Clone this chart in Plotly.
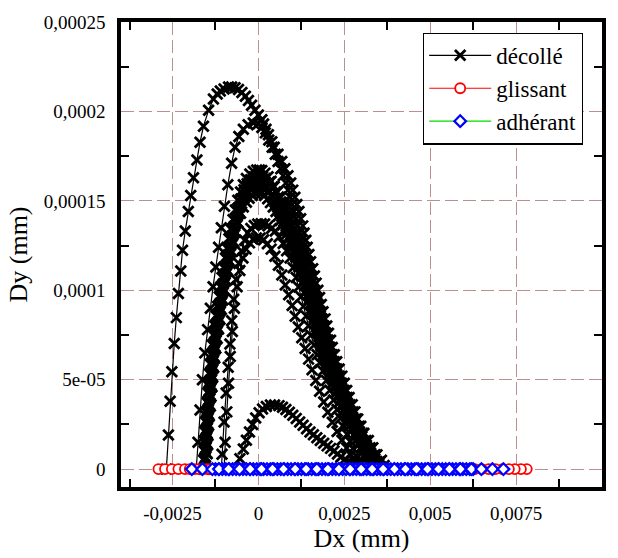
import plotly.graph_objects as go

# ---------------------------------------------------------------------------
# Contact displacement paths (Dx, Dy in mm), one list of points per path.
# ---------------------------------------------------------------------------
arch_a = [
    (-2.68e-3, 0.0), (-2.62e-3, 1.91e-5), (-2.57e-3, 3.80e-5), (-2.52e-3, 5.45e-5),
    (-2.45e-3, 7.03e-5), (-2.39e-3, 8.47e-5), (-2.33e-3, 9.82e-5), (-2.26e-3, 1.108e-4),
    (-2.21e-3, 1.224e-4), (-2.13e-3, 1.332e-4), (-2.04e-3, 1.440e-4), (-1.97e-3, 1.530e-4),
    (-1.89e-3, 1.629e-4), (-1.79e-3, 1.728e-4), (-1.70e-3, 1.827e-4), (-1.60e-3, 1.917e-4),
    (-1.45e-3, 2.007e-4), (-1.31e-3, 2.070e-4), (-1.20e-3, 2.098e-4), (-1.11e-3, 2.114e-4),
    (-1.00e-3, 2.126e-4), (-0.87e-3, 2.136e-4), (-0.78e-3, 2.137e-4), (-0.68e-3, 2.133e-4),
    (-0.58e-3, 2.122e-4), (-0.48e-3, 2.106e-4), (-0.38e-3, 2.085e-4), (-0.29e-3, 2.061e-4),
    (-0.20e-3, 2.035e-4), (-0.10e-3, 2.007e-4), (0.0, 1.980e-4), (0.10e-3, 1.953e-4),
    (0.15e-3, 1.93e-4), (0.22e-3, 1.90e-4), (0.29e-3, 1.87e-4), (0.39e-3, 1.83e-4),
    (0.46e-3, 1.80e-4), (0.57e-3, 1.76e-4), (0.68e-3, 1.72e-4), (0.77e-3, 1.68e-4),
    (0.86e-3, 1.64e-4), (0.94e-3, 1.60e-4), (1.00e-3, 1.56e-4), (1.06e-3, 1.52e-4),
    (1.12e-3, 1.48e-4), (1.18e-3, 1.44e-4), (1.23e-3, 1.40e-4), (1.29e-3, 1.36e-4),
    (1.33e-3, 1.32e-4), (1.38e-3, 1.28e-4), (1.42e-3, 1.24e-4), (1.47e-3, 1.20e-4),
    (1.52e-3, 1.16e-4), (1.58e-3, 1.12e-4), (1.63e-3, 1.08e-4), (1.68e-3, 1.04e-4),
    (1.73e-3, 1.00e-4), (1.78e-3, 9.6e-5), (1.83e-3, 9.2e-5), (1.88e-3, 8.8e-5),
    (1.94e-3, 8.4e-5), (1.99e-3, 8.0e-5), (2.04e-3, 7.6e-5), (2.10e-3, 7.2e-5),
    (2.15e-3, 6.8e-5), (2.21e-3, 6.4e-5), (2.28e-3, 6.0e-5), (2.35e-3, 5.6e-5),
    (2.43e-3, 5.2e-5), (2.50e-3, 4.8e-5), (2.57e-3, 4.4e-5), (2.64e-3, 4.0e-5),
    (2.73e-3, 3.6e-5), (2.81e-3, 3.2e-5), (2.89e-3, 2.8e-5), (2.98e-3, 2.4e-5),
    (3.07e-3, 2.0e-5), (3.20e-3, 1.6e-5), (3.33e-3, 1.2e-5), (3.45e-3, 8.0e-6),
    (3.58e-3, 5.0e-6), (3.66e-3, 2.0e-6), (3.68e-3, 0.0),
]

arch_b = [
    (-1.81e-3, 0.0), (-1.76e-3, 1.5e-5), (-1.70e-3, 3.3e-5), (-1.63e-3, 5.0e-5),
    (-1.56e-3, 6.5e-5), (-1.48e-3, 7.8e-5), (-1.40e-3, 9.0e-5), (-1.32e-3, 1.02e-4),
    (-1.24e-3, 1.13e-4), (-1.16e-3, 1.24e-4), (-1.08e-3, 1.35e-4), (-0.99e-3, 1.47e-4),
    (-0.89e-3, 1.59e-4), (-0.78e-3, 1.71e-4), (-0.68e-3, 1.80e-4), (-0.57e-3, 1.86e-4),
    (-0.44e-3, 1.90e-4), (-0.30e-3, 1.925e-4), (-0.15e-3, 1.935e-4), (0.0, 1.932e-4),
    (0.10e-3, 1.91e-4), (0.20e-3, 1.88e-4), (0.30e-3, 1.84e-4), (0.40e-3, 1.80e-4),
    (0.49e-3, 1.76e-4), (0.57e-3, 1.72e-4), (0.65e-3, 1.68e-4), (0.72e-3, 1.64e-4),
    (0.80e-3, 1.60e-4), (0.86e-3, 1.56e-4), (0.92e-3, 1.52e-4), (0.98e-3, 1.48e-4),
    (1.03e-3, 1.44e-4), (1.09e-3, 1.40e-4), (1.14e-3, 1.36e-4), (1.19e-3, 1.32e-4),
    (1.24e-3, 1.28e-4), (1.29e-3, 1.24e-4), (1.34e-3, 1.20e-4), (1.39e-3, 1.16e-4),
    (1.44e-3, 1.12e-4), (1.50e-3, 1.08e-4), (1.55e-3, 1.04e-4), (1.60e-3, 1.00e-4),
    (1.66e-3, 9.6e-5), (1.72e-3, 9.2e-5), (1.79e-3, 8.8e-5), (1.85e-3, 8.4e-5),
    (1.91e-3, 8.0e-5), (1.97e-3, 7.6e-5), (2.03e-3, 7.2e-5), (2.09e-3, 6.8e-5),
    (2.15e-3, 6.4e-5), (2.21e-3, 6.0e-5), (2.28e-3, 5.6e-5), (2.35e-3, 5.2e-5),
    (2.42e-3, 4.8e-5), (2.50e-3, 4.4e-5), (2.58e-3, 4.0e-5), (2.66e-3, 3.6e-5),
    (2.75e-3, 3.2e-5), (2.84e-3, 2.8e-5), (2.93e-3, 2.4e-5), (3.03e-3, 2.0e-5),
    (3.13e-3, 1.6e-5), (3.25e-3, 1.2e-5), (3.39e-3, 8.0e-6), (3.52e-3, 4.0e-6),
    (3.62e-3, 0.0),
]

arch_c1 = [
    (-1.60e-3, 0.0), (-1.59e-3, 5.0e-6), (-1.58e-3, 1.01e-5), (-1.57e-3, 1.55e-5),
    (-1.56e-3, 2.09e-5), (-1.54e-3, 2.63e-5), (-1.51e-3, 3.17e-5), (-1.49e-3, 3.71e-5),
    (-1.47e-3, 4.25e-5), (-1.45e-3, 4.79e-5), (-1.42e-3, 5.32e-5), (-1.40e-3, 5.86e-5),
    (-1.37e-3, 6.40e-5), (-1.34e-3, 6.94e-5), (-1.30e-3, 7.48e-5), (-1.27e-3, 8.02e-5),
    (-1.23e-3, 8.56e-5), (-1.19e-3, 9.10e-5), (-1.14e-3, 9.64e-5), (-1.10e-3, 1.018e-4),
    (-1.06e-3, 1.072e-4), (-1.01e-3, 1.126e-4), (-0.96e-3, 1.180e-4), (-0.91e-3, 1.234e-4),
    (-0.86e-3, 1.288e-4), (-0.80e-3, 1.341e-4), (-0.74e-3, 1.395e-4), (-0.67e-3, 1.449e-4),
    (-0.60e-3, 1.503e-4), (-0.52e-3, 1.550e-4), (-0.44e-3, 1.590e-4), (-0.35e-3, 1.625e-4),
    (-0.25e-3, 1.650e-4), (-0.15e-3, 1.665e-4), (-0.05e-3, 1.672e-4), (0.03e-3, 1.673e-4),
    (0.10e-3, 1.670e-4), (0.19e-3, 1.655e-4),
    (0.28e-3, 1.635e-4), (0.37e-3, 1.610e-4), (0.46e-3, 1.580e-4), (0.55e-3, 1.550e-4),
    (0.64e-3, 1.520e-4), (0.71e-3, 1.490e-4), (0.78e-3, 1.460e-4), (0.84e-3, 1.430e-4),
    (0.90e-3, 1.400e-4), (0.96e-3, 1.370e-4), (1.02e-3, 1.341e-4), (1.08e-3, 1.314e-4),
    (1.13e-3, 1.288e-4), (1.18e-3, 1.261e-4), (1.22e-3, 1.234e-4), (1.27e-3, 1.207e-4),
    (1.31e-3, 1.180e-4), (1.37e-3, 1.153e-4), (1.42e-3, 1.126e-4), (1.46e-3, 1.099e-4),
    (1.50e-3, 1.072e-4), (1.54e-3, 1.045e-4), (1.58e-3, 1.018e-4), (1.62e-3, 9.91e-5),
    (1.65e-3, 9.64e-5), (1.69e-3, 9.37e-5), (1.72e-3, 9.10e-5), (1.76e-3, 8.83e-5),
    (1.80e-3, 8.56e-5), (1.83e-3, 8.29e-5), (1.86e-3, 8.02e-5), (1.89e-3, 7.75e-5),
    (1.92e-3, 7.48e-5), (1.95e-3, 7.21e-5), (1.98e-3, 6.94e-5), (2.02e-3, 6.67e-5),
    (2.07e-3, 6.40e-5), (2.11e-3, 6.13e-5), (2.15e-3, 5.86e-5), (2.21e-3, 5.59e-5),
    (2.27e-3, 5.32e-5), (2.32e-3, 5.05e-5), (2.37e-3, 4.79e-5), (2.42e-3, 4.52e-5),
    (2.47e-3, 4.25e-5), (2.52e-3, 3.98e-5), (2.58e-3, 3.71e-5), (2.63e-3, 3.44e-5),
    (2.68e-3, 3.17e-5), (2.74e-3, 2.90e-5), (2.81e-3, 2.63e-5), (2.87e-3, 2.36e-5),
    (2.94e-3, 2.09e-5), (3.01e-3, 1.82e-5), (3.08e-3, 1.55e-5), (3.14e-3, 1.33e-5),
    (3.20e-3, 1.12e-5), (3.26e-3, 9.2e-6), (3.32e-3, 7.4e-6), (3.39e-3, 5.7e-6),
    (3.45e-3, 4.2e-6), (3.50e-3, 2.8e-6), (3.55e-3, 1.5e-6), (3.60e-3, 0.0),
]

arch_c4 = [
    (-1.575e-3, 0.0), (-1.565e-3, 5.9e-6), (-1.555e-3, 1.10e-5), (-1.545e-3, 1.64e-5),
    (-1.53e-3, 2.18e-5), (-1.51e-3, 2.72e-5), (-1.485e-3, 3.26e-5), (-1.465e-3, 3.80e-5),
    (-1.44e-3, 4.34e-5), (-1.415e-3, 4.88e-5), (-1.39e-3, 5.41e-5), (-1.36e-3, 5.95e-5),
    (-1.33e-3, 6.49e-5), (-1.295e-3, 7.03e-5), (-1.26e-3, 7.57e-5), (-1.22e-3, 8.11e-5),
    (-1.18e-3, 8.65e-5), (-1.14e-3, 9.19e-5), (-1.095e-3, 9.73e-5), (-1.05e-3, 1.027e-4),
    (-1.00e-3, 1.081e-4), (-0.955e-3, 1.135e-4), (-0.905e-3, 1.189e-4), (-0.85e-3, 1.243e-4),
    (-0.79e-3, 1.297e-4), (-0.73e-3, 1.350e-4), (-0.665e-3, 1.404e-4), (-0.59e-3, 1.458e-4),
    (-0.51e-3, 1.510e-4), (-0.42e-3, 1.562e-4), (-0.33e-3, 1.595e-4), (-0.23e-3, 1.618e-4),
    (-0.13e-3, 1.633e-4), (-0.04e-3, 1.640e-4), (0.04e-3, 1.641e-4), (0.12e-3, 1.636e-4),
    (0.20e-3, 1.625e-4),
    (0.32e-3, 1.605e-4), (0.41e-3, 1.578e-4), (0.50e-3, 1.550e-4), (0.585e-3, 1.522e-4),
    (0.65e-3, 1.494e-4), (0.72e-3, 1.466e-4), (0.775e-3, 1.438e-4), (0.83e-3, 1.410e-4),
    (0.885e-3, 1.383e-4), (0.94e-3, 1.356e-4), (0.997e-3, 1.328e-4), (1.05e-3, 1.301e-4),
    (1.10e-3, 1.274e-4), (1.15e-3, 1.247e-4), (1.19e-3, 1.220e-4), (1.24e-3, 1.193e-4),
    (1.29e-3, 1.166e-4), (1.34e-3, 1.139e-4), (1.39e-3, 1.112e-4), (1.43e-3, 1.085e-4),
    (1.47e-3, 1.058e-4), (1.51e-3, 1.031e-4), (1.55e-3, 1.004e-4), (1.58e-3, 9.77e-5),
    (1.62e-3, 9.50e-5), (1.65e-3, 9.23e-5), (1.69e-3, 8.96e-5), (1.73e-3, 8.69e-5),
    (1.765e-3, 8.42e-5), (1.795e-3, 8.15e-5), (1.825e-3, 7.88e-5), (1.855e-3, 7.61e-5),
    (1.885e-3, 7.34e-5), (1.915e-3, 7.07e-5), (1.95e-3, 6.80e-5), (2.00e-3, 6.53e-5),
    (2.04e-3, 6.26e-5), (2.08e-3, 5.99e-5), (2.13e-3, 5.72e-5), (2.19e-3, 5.45e-5),
    (2.25e-3, 5.18e-5), (2.30e-3, 4.91e-5), (2.35e-3, 4.64e-5), (2.40e-3, 4.37e-5),
    (2.45e-3, 4.10e-5), (2.505e-3, 3.83e-5), (2.56e-3, 3.56e-5), (2.61e-3, 3.29e-5),
    (2.665e-3, 3.02e-5), (2.73e-3, 2.75e-5), (2.80e-3, 2.48e-5), (2.86e-3, 2.21e-5),
    (2.93e-3, 1.94e-5), (3.00e-3, 1.68e-5), (3.06e-3, 1.44e-5), (3.12e-3, 1.22e-5),
    (3.18e-3, 1.02e-5), (3.24e-3, 8.3e-6), (3.30e-3, 6.6e-6), (3.37e-3, 5.0e-6),
    (3.42e-3, 3.5e-6), (3.48e-3, 2.1e-6), (3.52e-3, 8.0e-7), (3.57e-3, 0.0),
]

arch_c2 = [
    (-1.55e-3, 0.0), (-1.54e-3, 6.8e-6), (-1.53e-3, 1.19e-5), (-1.52e-3, 1.73e-5),
    (-1.50e-3, 2.27e-5), (-1.48e-3, 2.81e-5), (-1.46e-3, 3.35e-5), (-1.44e-3, 3.89e-5),
    (-1.41e-3, 4.43e-5), (-1.39e-3, 4.97e-5), (-1.36e-3, 5.50e-5), (-1.33e-3, 6.04e-5),
    (-1.30e-3, 6.58e-5), (-1.27e-3, 7.12e-5), (-1.23e-3, 7.66e-5), (-1.19e-3, 8.20e-5),
    (-1.15e-3, 8.74e-5), (-1.11e-3, 9.28e-5), (-1.06e-3, 9.82e-5), (-1.02e-3, 1.036e-4),
    (-0.97e-3, 1.090e-4), (-0.92e-3, 1.144e-4), (-0.87e-3, 1.198e-4), (-0.81e-3, 1.252e-4),
    (-0.75e-3, 1.306e-4), (-0.69e-3, 1.359e-4), (-0.62e-3, 1.413e-4), (-0.54e-3, 1.467e-4),
    (-0.45e-3, 1.515e-4), (-0.37e-3, 1.545e-4), (-0.28e-3, 1.572e-4), (-0.19e-3, 1.592e-4),
    (-0.10e-3, 1.605e-4), (-0.02e-3, 1.610e-4), (0.05e-3, 1.610e-4), (0.14e-3, 1.600e-4),
    (0.22e-3, 1.585e-4), (0.31e-3, 1.560e-4), (0.40e-3, 1.535e-4), (0.49e-3, 1.508e-4),
    (0.57e-3, 1.480e-4), (0.64e-3, 1.452e-4), (0.71e-3, 1.425e-4), (0.77e-3, 1.398e-4),
    (0.83e-3, 1.370e-4), (0.89e-3, 1.342e-4), (0.95e-3, 1.315e-4), (1.01e-3, 1.288e-4),
    (1.06e-3, 1.262e-4), (1.11e-3, 1.236e-4), (1.15e-3, 1.210e-4), (1.20e-3, 1.183e-4),
    (1.24e-3, 1.155e-4), (1.30e-3, 1.128e-4), (1.35e-3, 1.102e-4), (1.39e-3, 1.076e-4),
    (1.43e-3, 1.050e-4), (1.47e-3, 1.024e-4), (1.51e-3, 9.97e-5), (1.55e-3, 9.71e-5),
    (1.58e-3, 9.45e-5), (1.62e-3, 9.18e-5), (1.65e-3, 8.92e-5), (1.69e-3, 8.66e-5),
    (1.73e-3, 8.40e-5), (1.76e-3, 8.13e-5), (1.79e-3, 7.87e-5), (1.82e-3, 7.61e-5),
    (1.85e-3, 7.35e-5), (1.88e-3, 7.08e-5), (1.92e-3, 6.82e-5), (1.96e-3, 6.56e-5),
    (2.00e-3, 6.30e-5), (2.04e-3, 6.03e-5), (2.09e-3, 5.77e-5), (2.15e-3, 5.51e-5),
    (2.20e-3, 5.25e-5), (2.25e-3, 4.98e-5), (2.30e-3, 4.72e-5), (2.35e-3, 4.46e-5),
    (2.40e-3, 4.20e-5), (2.45e-3, 3.93e-5), (2.51e-3, 3.67e-5), (2.56e-3, 3.41e-5),
    (2.62e-3, 3.15e-5), (2.68e-3, 2.88e-5), (2.74e-3, 2.62e-5), (2.80e-3, 2.36e-5),
    (2.87e-3, 2.10e-5), (2.94e-3, 1.83e-5), (3.01e-3, 1.57e-5), (3.07e-3, 1.35e-5),
    (3.13e-3, 1.13e-5), (3.20e-3, 9.3e-6), (3.26e-3, 7.5e-6), (3.32e-3, 5.8e-6),
    (3.38e-3, 4.2e-6), (3.43e-3, 2.8e-6), (3.48e-3, 1.5e-6), (3.54e-3, 0.0),
]

arch_c5 = [
    (-1.525e-3, 0.0), (-1.515e-3, 9.2e-6), (-1.505e-3, 1.46e-5), (-1.495e-3, 2.00e-5),
    (-1.475e-3, 2.54e-5), (-1.455e-3, 3.08e-5), (-1.43e-3, 3.62e-5), (-1.41e-3, 4.16e-5),
    (-1.38e-3, 4.70e-5), (-1.36e-3, 5.23e-5), (-1.33e-3, 5.77e-5), (-1.30e-3, 6.31e-5),
    (-1.27e-3, 6.85e-5), (-1.235e-3, 7.39e-5), (-1.195e-3, 7.93e-5), (-1.155e-3, 8.47e-5),
    (-1.115e-3, 9.01e-5), (-1.075e-3, 9.55e-5), (-1.025e-3, 1.009e-4), (-0.98e-3, 1.063e-4),
    (-0.93e-3, 1.117e-4), (-0.88e-3, 1.171e-4), (-0.825e-3, 1.225e-4), (-0.765e-3, 1.279e-4),
    (-0.705e-3, 1.332e-4), (-0.64e-3, 1.386e-4), (-0.57e-3, 1.440e-4), (-0.49e-3, 1.485e-4),
    (-0.40e-3, 1.520e-4), (-0.31e-3, 1.548e-4), (-0.22e-3, 1.566e-4), (-0.13e-3, 1.577e-4),
    (-0.04e-3, 1.582e-4), (0.04e-3, 1.582e-4), (0.12e-3, 1.576e-4), (0.20e-3, 1.564e-4),
    (0.305e-3, 1.548e-4), (0.395e-3, 1.521e-4), (0.48e-3, 1.494e-4), (0.555e-3, 1.467e-4),
    (0.62e-3, 1.440e-4), (0.685e-3, 1.413e-4), (0.745e-3, 1.386e-4), (0.805e-3, 1.359e-4),
    (0.86e-3, 1.332e-4), (0.92e-3, 1.305e-4), (0.975e-3, 1.278e-4), (1.03e-3, 1.251e-4),
    (1.075e-3, 1.224e-4), (1.12e-3, 1.197e-4), (1.165e-3, 1.170e-4), (1.215e-3, 1.143e-4),
    (1.27e-3, 1.116e-4), (1.32e-3, 1.089e-4), (1.36e-3, 1.062e-4), (1.40e-3, 1.035e-4),
    (1.44e-3, 1.008e-4), (1.48e-3, 9.81e-5), (1.52e-3, 9.54e-5), (1.555e-3, 9.27e-5),
    (1.59e-3, 9.00e-5), (1.63e-3, 8.73e-5), (1.67e-3, 8.46e-5), (1.705e-3, 8.19e-5),
    (1.735e-3, 7.92e-5), (1.765e-3, 7.65e-5), (1.80e-3, 7.38e-5), (1.83e-3, 7.11e-5),
    (1.87e-3, 6.84e-5), (1.91e-3, 6.57e-5), (1.95e-3, 6.30e-5), (2.00e-3, 6.03e-5),
    (2.04e-3, 5.76e-5), (2.10e-3, 5.49e-5), (2.155e-3, 5.22e-5), (2.205e-3, 4.95e-5),
    (2.26e-3, 4.68e-5), (2.31e-3, 4.41e-5), (2.36e-3, 4.14e-5), (2.42e-3, 3.87e-5),
    (2.475e-3, 3.60e-5), (2.53e-3, 3.33e-5), (2.59e-3, 3.06e-5), (2.65e-3, 2.79e-5),
    (2.715e-3, 2.52e-5), (2.78e-3, 2.25e-5), (2.85e-3, 1.98e-5), (2.92e-3, 1.72e-5),
    (2.985e-3, 1.48e-5), (3.045e-3, 1.26e-5), (3.105e-3, 1.05e-5), (3.17e-3, 8.6e-6),
    (3.235e-3, 6.8e-6), (3.305e-3, 5.2e-6), (3.35e-3, 3.7e-6), (3.40e-3, 2.3e-6),
    (3.45e-3, 1.0e-6), (3.50e-3, 0.0),
]

arch_c3 = [
    (-1.50e-3, 0.0), (-1.49e-3, 8.6e-6), (-1.48e-3, 1.37e-5), (-1.47e-3, 1.91e-5),
    (-1.45e-3, 2.45e-5), (-1.43e-3, 2.99e-5), (-1.40e-3, 3.53e-5), (-1.38e-3, 4.07e-5),
    (-1.35e-3, 4.61e-5), (-1.33e-3, 5.15e-5), (-1.30e-3, 5.68e-5), (-1.27e-3, 6.22e-5),
    (-1.24e-3, 6.76e-5), (-1.20e-3, 7.30e-5), (-1.16e-3, 7.84e-5), (-1.12e-3, 8.38e-5),
    (-1.08e-3, 8.92e-5), (-1.04e-3, 9.46e-5), (-0.99e-3, 1.000e-4), (-0.94e-3, 1.054e-4),
    (-0.89e-3, 1.108e-4), (-0.84e-3, 1.162e-4), (-0.78e-3, 1.216e-4), (-0.72e-3, 1.270e-4),
    (-0.66e-3, 1.324e-4), (-0.59e-3, 1.377e-4), (-0.52e-3, 1.431e-4), (-0.44e-3, 1.465e-4),
    (-0.35e-3, 1.492e-4), (-0.27e-3, 1.514e-4), (-0.18e-3, 1.530e-4), (-0.09e-3, 1.543e-4),
    (0.0, 1.548e-4), (0.09e-3, 1.543e-4),
    (0.18e-3, 1.530e-4), (0.27e-3, 1.512e-4), (0.35e-3, 1.490e-4), (0.43e-3, 1.465e-4),
    (0.51e-3, 1.440e-4), (0.58e-3, 1.415e-4), (0.64e-3, 1.390e-4), (0.70e-3, 1.365e-4),
    (0.76e-3, 1.340e-4), (0.82e-3, 1.314e-4), (0.88e-3, 1.288e-4), (0.94e-3, 1.262e-4),
    (0.99e-3, 1.236e-4), (1.04e-3, 1.210e-4), (1.09e-3, 1.184e-4), (1.14e-3, 1.158e-4),
    (1.18e-3, 1.132e-4), (1.23e-3, 1.106e-4), (1.28e-3, 1.080e-4), (1.32e-3, 1.054e-4),
    (1.36e-3, 1.028e-4), (1.40e-3, 1.002e-4), (1.44e-3, 9.76e-5), (1.48e-3, 9.50e-5),
    (1.51e-3, 9.24e-5), (1.55e-3, 8.98e-5), (1.58e-3, 8.72e-5), (1.62e-3, 8.46e-5),
    (1.66e-3, 8.20e-5), (1.69e-3, 7.94e-5), (1.72e-3, 7.68e-5), (1.76e-3, 7.42e-5),
    (1.79e-3, 7.16e-5), (1.83e-3, 6.90e-5), (1.86e-3, 6.64e-5), (1.90e-3, 6.38e-5),
    (1.94e-3, 6.12e-5), (1.98e-3, 5.86e-5), (2.03e-3, 5.60e-5), (2.08e-3, 5.34e-5),
    (2.13e-3, 5.08e-5), (2.18e-3, 4.82e-5), (2.23e-3, 4.56e-5), (2.28e-3, 4.30e-5),
    (2.33e-3, 4.04e-5), (2.38e-3, 3.78e-5), (2.44e-3, 3.52e-5), (2.49e-3, 3.26e-5),
    (2.55e-3, 3.00e-5), (2.61e-3, 2.74e-5), (2.67e-3, 2.48e-5), (2.73e-3, 2.22e-5),
    (2.80e-3, 1.96e-5), (2.87e-3, 1.70e-5), (2.94e-3, 1.45e-5), (3.00e-3, 1.24e-5),
    (3.06e-3, 1.04e-5), (3.12e-3, 8.6e-6), (3.19e-3, 6.8e-6), (3.25e-3, 5.2e-6),
    (3.31e-3, 3.8e-6), (3.36e-3, 2.5e-6), (3.41e-3, 1.3e-6), (3.47e-3, 0.0),
]

arch_d = [
    (-1.08e-3, 0.0), (-1.06e-3, 8.3e-6), (-1.00e-3, 2.63e-5), (-0.94e-3, 4.25e-5),
    (-0.88e-3, 5.70e-5), (-0.83e-3, 7.00e-5), (-0.78e-3, 8.30e-5), (-0.72e-3, 9.50e-5),
    (-0.65e-3, 1.060e-4), (-0.57e-3, 1.150e-4), (-0.49e-3, 1.220e-4), (-0.40e-3, 1.280e-4),
    (-0.31e-3, 1.320e-4), (-0.22e-3, 1.345e-4), (-0.12e-3, 1.362e-4), (-0.02e-3, 1.370e-4),
    (0.08e-3, 1.372e-4), (0.18e-3, 1.370e-4),
    (0.28e-3, 1.360e-4), (0.38e-3, 1.346e-4), (0.49e-3, 1.331e-4), (0.60e-3, 1.298e-4),
    (0.72e-3, 1.261e-4), (0.82e-3, 1.221e-4), (0.92e-3, 1.180e-4), (1.01e-3, 1.126e-4),
    (1.10e-3, 1.072e-4), (1.17e-3, 1.018e-4), (1.24e-3, 9.64e-5), (1.31e-3, 9.10e-5),
    (1.39e-3, 8.56e-5), (1.46e-3, 8.02e-5), (1.53e-3, 7.48e-5), (1.62e-3, 6.94e-5),
    (1.71e-3, 6.40e-5), (1.79e-3, 5.95e-5), (1.88e-3, 5.49e-5), (1.98e-3, 4.95e-5),
    (2.08e-3, 4.41e-5), (2.19e-3, 3.87e-5), (2.29e-3, 3.33e-5), (2.39e-3, 2.85e-5),
    (2.49e-3, 2.36e-5), (2.58e-3, 1.95e-5), (2.67e-3, 1.55e-5), (2.75e-3, 1.15e-5),
    (2.84e-3, 7.4e-6), (2.93e-3, 3.5e-6), (3.00e-3, 0.0),
]

arch_e = [
    (-1.00e-3, 0.0), (-0.97e-3, 1.5e-5), (-0.92e-3, 3.2e-5), (-0.87e-3, 4.8e-5),
    (-0.82e-3, 6.3e-5), (-0.76e-3, 7.7e-5), (-0.70e-3, 9.0e-5), (-0.62e-3, 1.02e-4),
    (-0.54e-3, 1.11e-4), (-0.45e-3, 1.18e-4), (-0.36e-3, 1.23e-4), (-0.26e-3, 1.265e-4),
    (-0.16e-3, 1.285e-4), (-0.06e-3, 1.293e-4), (0.05e-3, 1.292e-4),
    (0.15e-3, 1.282e-4), (0.26e-3, 1.260e-4), (0.37e-3, 1.230e-4), (0.48e-3, 1.190e-4),
    (0.58e-3, 1.140e-4), (0.68e-3, 1.085e-4), (0.78e-3, 1.030e-4), (0.88e-3, 9.75e-5),
    (0.98e-3, 9.15e-5), (1.07e-3, 8.55e-5), (1.16e-3, 7.95e-5), (1.26e-3, 7.35e-5),
    (1.36e-3, 6.75e-5), (1.46e-3, 6.15e-5), (1.56e-3, 5.55e-5), (1.67e-3, 4.95e-5),
    (1.78e-3, 4.35e-5), (1.90e-3, 3.75e-5), (2.02e-3, 3.18e-5), (2.15e-3, 2.62e-5),
    (2.29e-3, 2.10e-5), (2.43e-3, 1.62e-5), (2.57e-3, 1.18e-5), (2.69e-3, 8.0e-6),
    (2.80e-3, 4.5e-6), (2.90e-3, 1.8e-6), (2.96e-3, 0.0),
]

arch_f = [
    (-0.65e-3, 0.0), (-0.54e-3, 5.8e-6), (-0.44e-3, 1.12e-5), (-0.35e-3, 1.62e-5),
    (-0.26e-3, 2.08e-5), (-0.17e-3, 2.50e-5), (-0.08e-3, 2.86e-5), (0.02e-3, 3.15e-5),
    (0.12e-3, 3.36e-5), (0.23e-3, 3.50e-5), (0.35e-3, 3.58e-5), (0.47e-3, 3.58e-5),
    (0.60e-3, 3.55e-5), (0.70e-3, 3.46e-5), (0.80e-3, 3.33e-5), (0.90e-3, 3.18e-5),
    (1.00e-3, 3.01e-5), (1.10e-3, 2.83e-5), (1.20e-3, 2.64e-5), (1.30e-3, 2.45e-5),
    (1.40e-3, 2.26e-5), (1.50e-3, 2.08e-5), (1.60e-3, 1.92e-5), (1.70e-3, 1.76e-5),
    (1.80e-3, 1.60e-5), (1.90e-3, 1.45e-5), (2.00e-3, 1.30e-5), (2.10e-3, 1.16e-5),
    (2.20e-3, 1.01e-5), (2.30e-3, 8.5e-6), (2.40e-3, 6.8e-6), (2.50e-3, 5.2e-6),
    (2.60e-3, 4.0e-6), (2.70e-3, 2.9e-6), (2.80e-3, 1.9e-6), (2.90e-3, 1.0e-6),
    (3.00e-3, 3.0e-7), (3.08e-3, 0.0),
]

decolle_paths = [arch_a, arch_b, arch_c1, arch_c4, arch_c2, arch_c5, arch_c3,
                 arch_d, arch_e, arch_f]

# Sliding nodes (all on Dy = 0)
glissant_dx = [
    -2.91e-3, -2.72e-3, -2.52e-3, -2.33e-3, -2.14e-3, -2.00e-3, -1.86e-3, -1.74e-3,
    -1.62e-3, -1.50e-3, -1.40e-3, -1.30e-3,
    7.81e-3, 7.64e-3, 7.46e-3, 7.29e-3, 7.10e-3, 6.90e-3, 6.70e-3, 6.50e-3, 6.30e-3,
    6.00e-3, 5.50e-3, 5.00e-3, 4.50e-3, 4.00e-3, 3.50e-3, 3.10e-3, 2.60e-3, 2.10e-3,
    1.60e-3, 1.10e-3, 0.60e-3, 0.10e-3, -0.40e-3, -0.90e-3,
]
glissant_dy = [0.0] * len(glissant_dx)

# Sticking nodes (all on Dy = 0)
adherant_dx = [
    -1.25e-3, -1.15e-3, -1.05e-3, -0.95e-3, -0.85e-3, -0.75e-3, -0.65e-3, -0.55e-3,
    -0.45e-3, -0.35e-3, -0.25e-3, -0.15e-3, -0.05e-3, 0.05e-3, 0.15e-3, 0.25e-3,
    0.35e-3, 0.45e-3, 0.55e-3, 0.65e-3, 0.75e-3, 0.85e-3, 0.95e-3, 1.05e-3,
    1.15e-3, 1.25e-3, 1.35e-3, 1.45e-3, 1.55e-3, 1.65e-3, 1.75e-3, 1.85e-3,
    1.95e-3, 2.05e-3, 2.15e-3, 2.25e-3, 2.35e-3, 2.45e-3, 2.55e-3, 2.65e-3,
    2.75e-3, 2.85e-3, 2.95e-3, 3.05e-3, 3.15e-3, 3.25e-3, 3.35e-3, 3.45e-3,
    3.55e-3, 3.65e-3, 3.75e-3, 3.85e-3, 3.95e-3, 4.05e-3, 4.15e-3, 4.25e-3,
    4.35e-3, 4.45e-3, 4.55e-3, 4.65e-3, 4.75e-3, 4.85e-3, 4.95e-3, 5.05e-3,
    5.15e-3, 5.25e-3, 5.35e-3, 5.45e-3, 5.55e-3, 5.65e-3, 5.75e-3, 5.85e-3,
    5.95e-3, 6.05e-3, 6.15e-3, 6.25e-3,
    -1.94e-3, -1.63e-3, -1.34e-3, -1.15e-3, -0.87e-3, -0.55e-3, -0.24e-3, 0.09e-3,
    0.41e-3, 0.73e-3, 1.07e-3, 1.39e-3, 1.70e-3, 2.02e-3, 2.34e-3, 2.67e-3,
    2.99e-3, 3.31e-3, 3.63e-3, 3.96e-3, 4.28e-3, 4.60e-3, 4.92e-3, 5.24e-3,
    5.56e-3, 5.88e-3, 6.20e-3, 6.49e-3, 6.81e-3, 7.13e-3,
]
adherant_dy = [0.0] * len(adherant_dx)

# Axis ticks
x_tickvals = [-0.0025, 0.0, 0.0025, 0.005, 0.0075, 0.01]
x_ticktext = ["-0,0025", "0", "0,0025", "0,005", "0,0075", "0,01"]
x_minor = [-0.00375, -0.00125, 0.00125, 0.00375, 0.00625, 0.00875]
y_tickvals = [0.0, 5e-5, 1e-4, 1.5e-4, 2e-4, 2.5e-4]
y_ticktext = ["0", "5e-05", "0,0001", "0,00015", "0,0002", "0,00025"]
y_minor = [2.5e-5, 7.5e-5, 1.25e-4, 1.75e-4, 2.25e-4]

SERIF = "Liberation Serif"
GRID = "#bc8f8f"

fig = go.Figure()

for i, path in enumerate(decolle_paths):
    fig.add_trace(go.Scatter(
        x=[p[0] for p in path], y=[p[1] for p in path],
        mode="lines+markers", name="décollé", legendgroup="decolle",
        showlegend=(i == 0),
        line=dict(color="black", width=1.2),
        marker=dict(symbol="x-thin", size=10.5, line=dict(color="black", width=2.8)),
    ))

fig.add_trace(go.Scatter(
    x=glissant_dx, y=glissant_dy, mode="lines+markers", name="glissant",
    line=dict(color="red", width=1.2),
    marker=dict(symbol="circle", size=10, color="white", line=dict(color="red", width=1.8)),
))

fig.add_trace(go.Scatter(
    x=adherant_dx, y=adherant_dy, mode="lines+markers", name="adhérant",
    line=dict(color="#00dd00", width=1.2),
    marker=dict(symbol="diamond", size=9, color="white", line=dict(color="blue", width=2.2)),
))

axis_common = dict(
    showline=True, linewidth=3.5, linecolor="black", mirror="ticks",
    showgrid=True, gridcolor=GRID, gridwidth=1.3, griddash="13px,5px",
    zeroline=False, ticks="", tickfont=dict(family=SERIF, size=19, color="black"),
)

fig.update_xaxes(
    range=[-0.004, 0.01], tickmode="array", tickvals=x_tickvals, ticktext=x_ticktext,
    minor=dict(tickmode="array", tickvals=x_minor, ticks="inside", ticklen=8,
               tickwidth=1.5, tickcolor="black", showgrid=False),
    title=dict(text="Dx (mm)", font=dict(family=SERIF, size=26, color="black"), standoff=4),
    ticklabelstandoff=6,
    **axis_common,
)
fig.update_yaxes(
    range=[-1e-5, 2.5e-4], tickmode="array", tickvals=y_tickvals, ticktext=y_ticktext,
    minor=dict(tickmode="array", tickvals=y_minor, ticks="inside", ticklen=8,
               tickwidth=1.5, tickcolor="black", showgrid=False),
    title=dict(text="Dy (mm)", font=dict(family=SERIF, size=26, color="black"), standoff=10),
    ticklabelstandoff=8,
    **axis_common,
)

fig.update_layout(
    width=618, height=558,
    margin=dict(l=121, r=16, t=15, b=61),
    paper_bgcolor="white", plot_bgcolor="white",
    font=dict(family=SERIF, color="black"),
    legend=dict(
        x=0.9605, xanchor="right", y=0.977, yanchor="top",
        bgcolor="white", bordercolor="black", borderwidth=1.2,
        font=dict(family=SERIF, size=23, color="black"),
        itemwidth=62, tracegroupgap=0,
    ),
)

fig.write_html("out.html")
